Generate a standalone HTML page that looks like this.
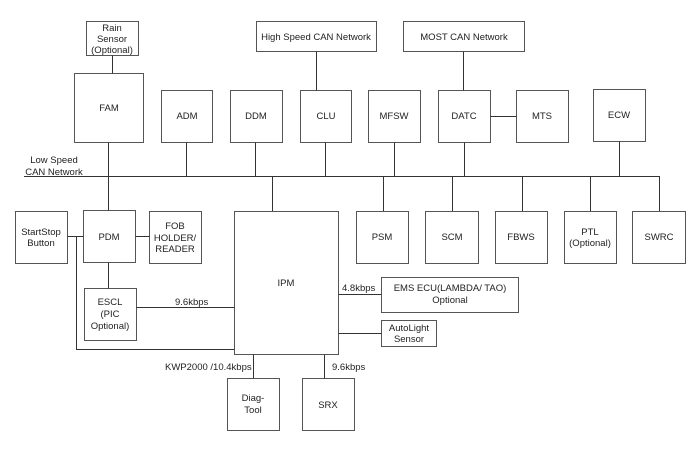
<!DOCTYPE html>
<html><head><meta charset="utf-8"><style>
html,body{margin:0;padding:0;background:#fff;}
svg{display:block;}
text{font-family:"Liberation Sans",Arial,sans-serif;font-size:9.5px;fill:#222;}
</style></head><body>
<svg width="700" height="451" viewBox="0 0 700 451" xmlns="http://www.w3.org/2000/svg">
<g fill="#fff" stroke="#555" stroke-width="1">
<rect x="86.5" y="21.5" width="52" height="34"/>
<rect x="74.5" y="73.5" width="69" height="69"/>
<rect x="161.5" y="90.5" width="51" height="52"/>
<rect x="230.5" y="90.5" width="52" height="52"/>
<rect x="300.5" y="90.5" width="51" height="52"/>
<rect x="256.5" y="21.5" width="120" height="30"/>
<rect x="403.5" y="21.5" width="121" height="30"/>
<rect x="368.5" y="90.5" width="52" height="52"/>
<rect x="438.5" y="90.5" width="52" height="52"/>
<rect x="516.5" y="90.5" width="52" height="52"/>
<rect x="593.5" y="89.5" width="52" height="52"/>
<rect x="356.5" y="211.5" width="52" height="52"/>
<rect x="425.5" y="211.5" width="53" height="52"/>
<rect x="495.5" y="211.5" width="52" height="52"/>
<rect x="564.5" y="211.5" width="52" height="52"/>
<rect x="632.5" y="211.5" width="53" height="52"/>
<rect x="15.5" y="211.5" width="52" height="52"/>
<rect x="83.5" y="210.5" width="52" height="52"/>
<rect x="149.5" y="211.5" width="52" height="52"/>
<rect x="234.5" y="211.5" width="104" height="143"/>
<rect x="84.5" y="288.5" width="52" height="52"/>
<rect x="227.5" y="378.5" width="52" height="52"/>
<rect x="302.5" y="378.5" width="52" height="52"/>
<rect x="381.5" y="277.5" width="137" height="35"/>
<rect x="381.5" y="320.5" width="55" height="26"/>
</g>
<g stroke="#333" stroke-width="1" fill="none">
<path d="M24 176.5H659.5"/>
<path d="M112.5 55.5V73.5M108.5 142.5V210.5M186.5 142.5V176M255.5 142.5V176M325.5 142.5V176M316.5 51.5V90.5M463.5 51.5V90.5M394.5 142.5V176M464.5 142.5V176M619.5 141.5V176M490.5 116.5H516.5"/>
<path d="M272.5 176V211M383.5 176V211M452.5 176V211M522.5 176V211M590.5 176V211M659.5 176V211"/>
<path d="M67.5 236.5H83.5M135.5 236.5H149.5M108.5 262.5V288.5M136.5 307.5H234.5M76.5 236.5V349.5H234.5"/>
<path d="M253.5 354.5V378.5M324.5 354.5V378.5M338.5 294.5H381.5M338.5 333.5H381.5"/>
</g>
<g text-anchor="middle">
<text x="112" y="31">Rain</text><text x="112" y="42">Sensor</text><text x="112" y="53">(Optional)</text>
<text x="109" y="111">FAM</text>
<text x="187" y="119">ADM</text><text x="256" y="119">DDM</text><text x="326" y="119">CLU</text>
<text x="316" y="40">High Speed CAN Network</text>
<text x="464" y="40">MOST CAN Network</text>
<text x="394" y="119">MFSW</text><text x="464" y="119">DATC</text><text x="542" y="119">MTS</text><text x="619" y="118">ECW</text>
<text x="382" y="240">PSM</text><text x="452" y="240">SCM</text><text x="521" y="240">FBWS</text>
<text x="590" y="235">PTL</text><text x="590" y="246">(Optional)</text>
<text x="659" y="240">SWRC</text>
<text x="41" y="235">StartStop</text><text x="41" y="246">Button</text>
<text x="109" y="240">PDM</text>
<text x="175" y="229">FOB</text><text x="175" y="241">HOLDER/</text><text x="175" y="252">READER</text>
<text x="286" y="286">IPM</text>
<text x="110" y="305">ESCL</text><text x="110" y="317">(PIC</text><text x="110" y="329">Optional)</text>
<text x="253" y="401">Diag-</text><text x="253" y="413">Tool</text>
<text x="328" y="408">SRX</text>
<text x="450" y="291">EMS ECU(LAMBDA/ TAO)</text><text x="450" y="303">Optional</text>
<text x="409" y="331">AutoLight</text><text x="409" y="342">Sensor</text>
<text x="54" y="163">Low Speed</text><text x="54" y="175">CAN Network</text>
</g>
<text x="175" y="305">9.6kbps</text>
<text x="342" y="291">4.8kbps</text>
<text x="165" y="370">KWP2000 /10.4kbps</text>
<text x="332" y="370">9.6kbps</text>
</svg>
</body></html>
